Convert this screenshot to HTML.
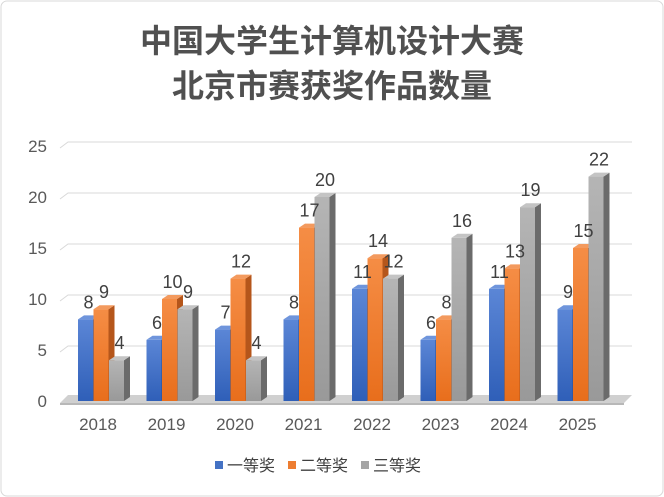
<!DOCTYPE html>
<html><head><meta charset="utf-8"><style>
body{margin:0;background:#fff;}
svg{display:block;font-family:"Liberation Sans","Noto Sans CJK SC",sans-serif;}
</style></head><body>
<svg width="664" height="497" viewBox="0 0 664 497">
<defs>
<linearGradient id="gb" x1="0" y1="0" x2="0" y2="1"><stop offset="0" stop-color="#5b86d6"/><stop offset="1" stop-color="#2f5fb8"/></linearGradient>
<linearGradient id="go" x1="0" y1="0" x2="0" y2="1"><stop offset="0" stop-color="#f58d45"/><stop offset="1" stop-color="#e86e1c"/></linearGradient>
<linearGradient id="gg" x1="0" y1="0" x2="0" y2="1"><stop offset="0" stop-color="#b5b5b5"/><stop offset="1" stop-color="#999"/></linearGradient>
</defs>
<rect x="1" y="1" width="662" height="495" rx="6" fill="#fff" stroke="#d9d9d9"/>
<text x="332" y="52" text-anchor="middle" font-size="32" font-weight="bold" fill="#505050">中国大学生计算机设计大赛</text>
<text x="332" y="97" text-anchor="middle" font-size="32" font-weight="bold" fill="#505050">北京市赛获奖作品数量</text>
<g id="grid"></g>
<g id="bars"></g>
<g id="labels"></g>
<g>
<rect x="215" y="461" width="8" height="8" fill="#4472c4"/>
<text x="227" y="471" font-size="16" fill="#404040">一等奖</text>
<rect x="288" y="461" width="8" height="8" fill="#ed7d31"/>
<text x="300" y="471" font-size="16" fill="#404040">二等奖</text>
<rect x="361" y="461" width="8" height="8" fill="#a5a5a5"/>
<text x="373" y="471" font-size="16" fill="#404040">三等奖</text>
</g>
</svg>
<script>
const categories=["2018","2019","2020","2021","2022","2023","2024","2025"];
const firstPrize=[8,6,7,8,11,6,11,9];
const secondPrize=[9,10,12,17,14,8,13,15];
const thirdPrize=[4,9,4,20,12,16,19,22];
const yTicks=[0,5,10,15,20,25];
const NS="http://www.w3.org/2000/svg";
const y0=401,unit=10.2,dx=6,dy=4;
function yS(v){return y0-v*unit;}
function xS(i){return 78+i*68.5;}
function mk(tag,attrs,parent){const e=document.createElementNS(NS,tag);for(const k in attrs)e.setAttribute(k,attrs[k]);parent.appendChild(e);return e;}
const grid=document.getElementById('grid'),bars=document.getElementById('bars'),labels=document.getElementById('labels');
let fl=mk('polygon',{points:`60,${y0+2} 624,${y0+2} 632,${y0-dy-2} 68,${y0-dy-2}`,fill:'#d0d0d0'},grid);


let fl2=mk('polygon',{points:`60,${y0+2} 624,${y0+2} 624,${y0+4} 60,${y0+4}`,fill:'#b8b8b8'},grid);


yTicks.forEach(t=>{
  const y=yS(t);
  if(t>0){
    const g=mk('polyline',{points:`60,${y+2} 68,${y-dy} 632,${y-dy}`,fill:'none',stroke:'#d9d9d9','stroke-width':1},grid);
    
    
  }
  const tx=mk('text',{x:47,y:y+6,'text-anchor':'end','font-size':17,fill:'#595959'},labels);
  tx.textContent=t;
  
  
});
const series=[[firstPrize,'url(#gb)','#2a4f94','#6f95dc','first'],[secondPrize,'url(#go)','#b5561b','#f39a5e','second'],[thirdPrize,'url(#gg)','#6b6b6b','#c4c4c4','third']];
categories.forEach((c,i)=>{
  series.forEach((s,j)=>{
    const v=s[0][i],x=xS(i)+j*15.5,w=15,yt=yS(v);
    const g=mk('g',{},bars);
    
    
    mk('polygon',{points:`${x+w},${yt} ${x+w+dx},${yt-dy} ${x+w+dx},${y0-dy} ${x+w},${y0}`,fill:s[2]},g);
    mk('polygon',{points:`${x},${yt} ${x+dx},${yt-dy} ${x+w+dx},${yt-dy} ${x+w},${yt}`,fill:s[3]},g);
    mk('rect',{x:x,y:yt,width:w,height:y0-yt,fill:s[1]},g);
    const t=mk('text',{x:x+w/2+3,y:yt-11,'text-anchor':'middle','font-size':18,fill:'#404040'},labels);
    t.textContent=v;
    
    
  });
  const t=mk('text',{x:xS(i)+20,y:430,'text-anchor':'middle','font-size':17,fill:'#595959'},labels);
  t.textContent=c;
  
  
});
</script>
</body></html>
